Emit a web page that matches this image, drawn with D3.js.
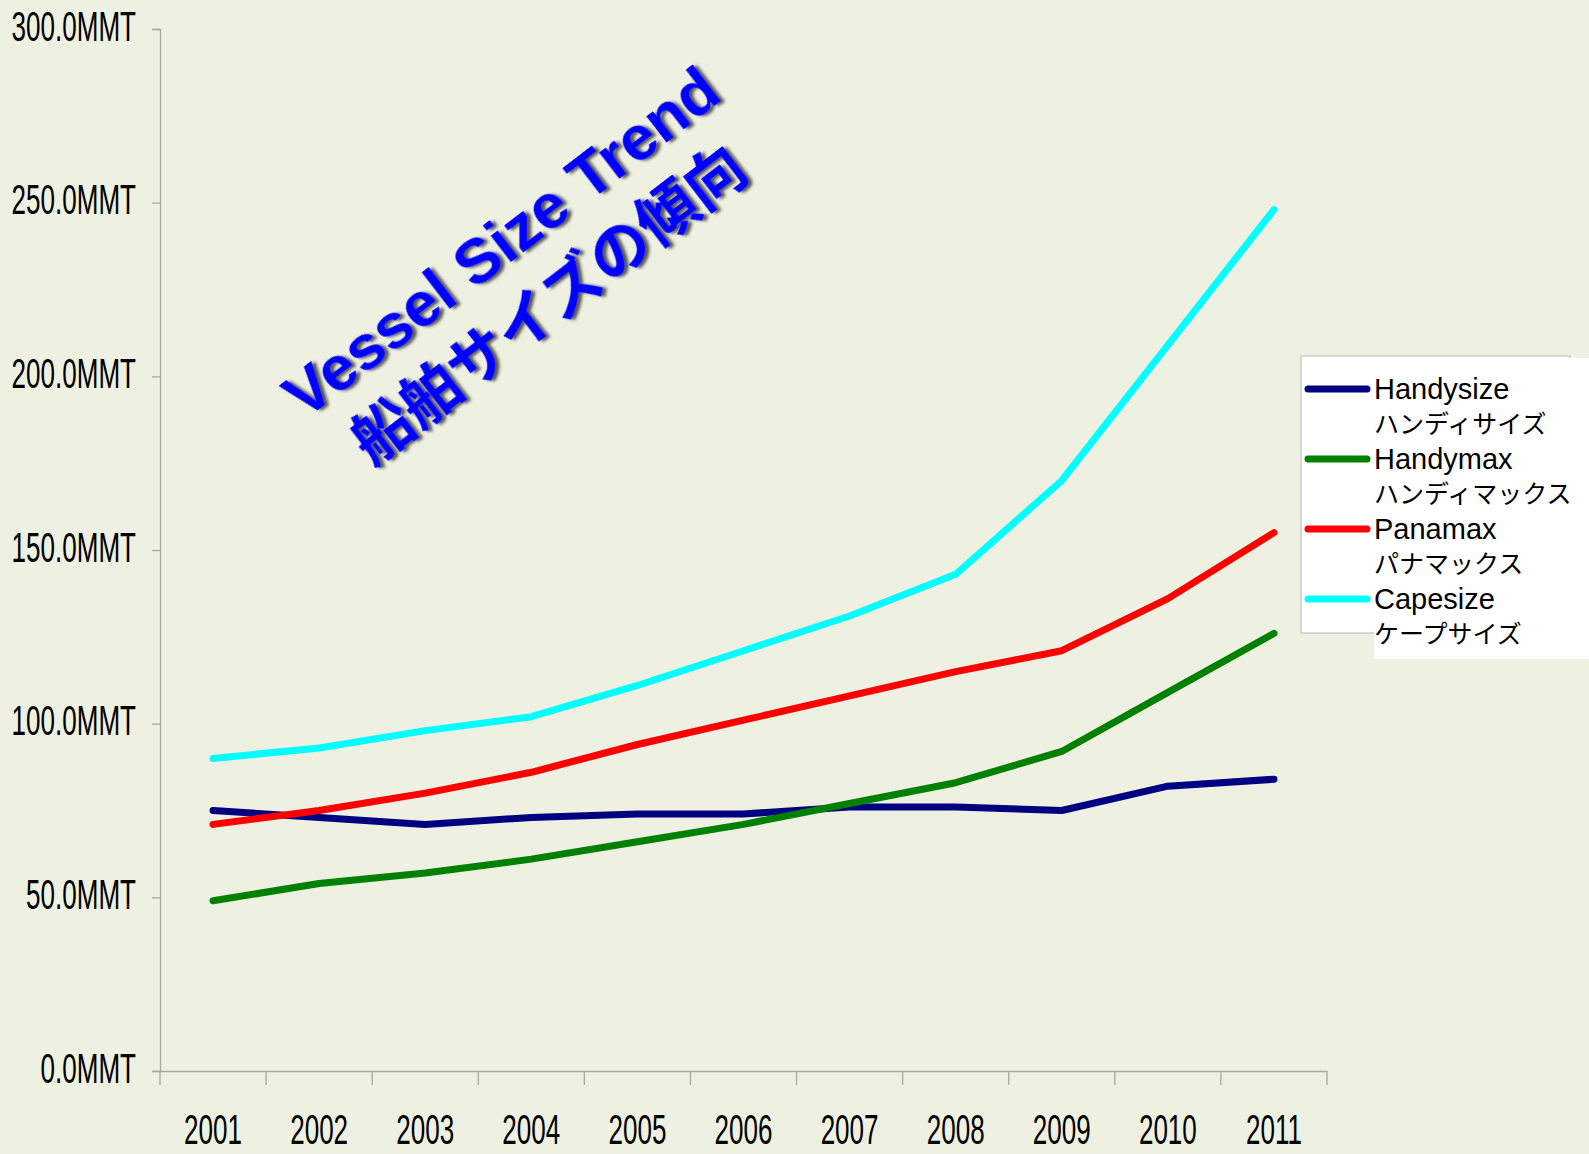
<!DOCTYPE html>
<html><head><meta charset="utf-8">
<script src="https://cdn.jsdelivr.net/npm/d3@7"></script>
<style>
html,body{margin:0;padding:0;background:#EEF0E1;}
svg{display:block;}
</style></head>
<body>
<svg id="chart" width="1589" height="1154"></svg>
<script>
const years = ["2001","2002","2003","2004","2005","2006","2007","2008","2009","2010","2011"];
const handysize = [75, 73, 71, 73, 74, 74, 76, 76, 75, 82, 84];
const handymax  = [49, 54, 57, 61, 66, 71, 77, 83, 92, 109, 126];
const panamax   = [71, 75, 80, 86, 94, 101, 108, 115, 121, 136, 155];
const capesize  = [90, 93, 98, 102, 111, 121, 131, 143, 170, 209, 248];
const seriesNames = ["Handysize","Handymax","Panamax","Capesize"];
const seriesNamesJa = ["ハンディサイズ","ハンディマックス","パナマックス","ケープサイズ"];
const seriesColors = ["#000080","#008000","#FF0000","#00FFFF"];
const yTicks = [0, 50, 100, 150, 200, 250, 300];
const titleEn = "Vessel Size Trend";
const titleJa = "船舶サイズの傾向";

(function(){
const series = [handysize, handymax, panamax, capesize];
const svg = d3.select("#chart");
svg.append("rect").attr("width",1589).attr("height",1154).attr("fill","#EEF0E1");

const pLeft = 160, pRight = 1327, pTop = 29, pBottom = 1071;
const x = d3.scaleBand().domain(years).range([pLeft, pRight]).paddingInner(0).paddingOuter(0);
const y = d3.scaleLinear().domain([0, 300]).range([pBottom, pTop]);
const axisColor = "#A8A8A0";
const condensed = 0.62;

// Y axis
const yAxis = svg.append("g").attr("transform", `translate(${pLeft},0)`)
  .call(d3.axisLeft(y).tickValues(yTicks).tickSize(8).tickPadding(0)
    .tickFormat(d => d3.format(".1f")(d) + "MMT"));
yAxis.select(".domain").attr("stroke", axisColor).attr("stroke-width",1.3);
yAxis.selectAll(".tick line").attr("stroke", axisColor).attr("stroke-width",1.3);
yAxis.selectAll(".tick text")
  .attr("font-family","'Liberation Sans', Arial, sans-serif")
  .attr("font-size", 42).attr("fill","#000")
  .attr("x", -24/condensed).attr("dy", null).attr("y", 11)
  .attr("transform", `scale(${condensed},1)`);

// X axis
const xAxis = svg.append("g").attr("transform", `translate(0,${pBottom})`)
  .call(d3.axisBottom(x).tickSize(0).tickPadding(0));
xAxis.select(".domain").attr("stroke", axisColor).attr("stroke-width",1.3);
xAxis.selectAll(".tick text")
  .attr("font-family","'Liberation Sans', Arial, sans-serif")
  .attr("font-size", 42).attr("fill","#000")
  .attr("dy", null).attr("y", 73).attr("x", 0)
  .attr("transform", `scale(${condensed},1)`);
const boundaries = years.map(d => x(d)).concat([x(years[years.length-1]) + x.bandwidth()]);
xAxis.selectAll("line.bt").data(boundaries).join("line").attr("class","bt")
  .attr("x1", d => d).attr("x2", d => d).attr("y1", 0).attr("y2", 14)
  .attr("stroke", axisColor).attr("stroke-width",1.3);

// Lines
const line = d3.line().x((d,i) => x(years[i]) + x.bandwidth()/2).y(d => y(d));
series.forEach((s, k) => {
  svg.append("path").datum(s).attr("d", line).attr("fill","none")
    .attr("stroke", seriesColors[k]).attr("stroke-width", 7)
    .attr("stroke-linejoin","round").attr("stroke-linecap","round");
});

// Title with shadow
const defs = svg.append("defs");
const f = defs.append("filter").attr("id","shadow").attr("x","-20%").attr("y","-20%").attr("width","140%").attr("height","140%");
f.append("feDropShadow").attr("dx",3).attr("dy",3).attr("stdDeviation",1.6)
  .attr("flood-color","#222").attr("flood-opacity",0.75);
const tg = svg.append("g").attr("transform","translate(524,272) rotate(-37.5)").attr("filter","url(#shadow)");
tg.append("text").text(titleEn).attr("x",0).attr("y",-39).attr("dy","0.36em")
  .attr("text-anchor","middle").attr("font-family","'Liberation Sans', Arial, sans-serif")
  .attr("font-weight","bold").attr("font-size",63).attr("fill","#0000FF");
tg.append("text").text(titleJa).attr("x",0).attr("y",40).attr("dy","0.36em")
  .attr("text-anchor","middle").attr("font-family","'Noto Sans CJK JP', sans-serif")
  .attr("font-weight","bold").attr("font-size",60).attr("fill","#0000FF");

// Legend
const lg = svg.append("g");
lg.append("rect").attr("x",1301).attr("y",356).attr("width",269).attr("height",277)
  .attr("fill","#FFFFFF").attr("stroke","#C8C8C0").attr("stroke-width",1.3);
lg.append("rect").attr("x",1374).attr("y",358).attr("width",215).attr("height",301)
  .attr("fill","#FFFFFF");
seriesNames.forEach((n, k) => {
  const cy = 389 + k*70;
  lg.append("line").attr("x1",1308).attr("x2",1367).attr("y1",cy).attr("y2",cy)
    .attr("stroke", seriesColors[k]).attr("stroke-width",7).attr("stroke-linecap","round");
  lg.append("text").text(n).attr("x",1374).attr("y",cy+10)
    .attr("font-family","'Liberation Sans', Arial, sans-serif").attr("font-size",29).attr("fill","#000");
  lg.append("text").text(seriesNamesJa[k]).attr("x",1374).attr("y",cy+44)
    .attr("font-family","'Noto Sans CJK JP', sans-serif").attr("font-size",25).attr("fill","#000");
});
})();
</script>
</body></html>
